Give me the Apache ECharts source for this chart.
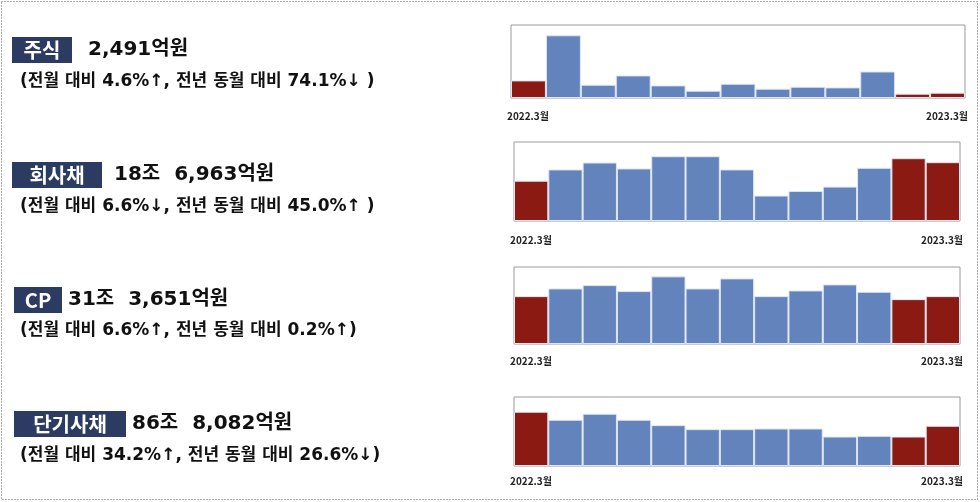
<!DOCTYPE html>
<html><head><meta charset="utf-8">
<script src="https://cdn.jsdelivr.net/npm/echarts@6/dist/echarts.min.js"></script>
<style>
html,body{margin:0;padding:0;background:#fff;}
#main{width:980px;height:502px;}
</style></head>
<body><div id="main"></div>
<script>
// 월별 발행액 (2022.3월 ~ 2023.3월), 그림에서 읽은 상대 높이
var months = ['2022.3','4','5','6','7','8','9','10','11','12','2023.1','2','2023.3'];
var stockVals = [53, 189, 40, 68, 38, 22, 43, 28, 34, 32, 80, 13, 16];
var corpVals = [122, 156, 177, 159, 196, 196, 156, 77, 91, 104, 161, 190, 178];
var cpVals = [143, 166, 176, 158, 202, 166, 196, 143, 160, 178, 156, 134, 143];
var shortVals = [162, 138, 156, 138, 122, 110, 110, 112, 112, 88, 90, 88, 120];
var axisMax = [220, 239, 230, 206];
var titles = ['주식', '회사채', 'CP', '단기사채'];
var amounts = ['2,491억원', '18조  6,963억원', '31조  3,651억원', '86조  8,082억원'];
var notes = [
	'(전월 대비 4.6%↑, 전년 동월 대비 74.1%↓ )',
	'(전월 대비 6.6%↓, 전년 동월 대비 45.0%↑ )',
	'(전월 대비 6.6%↑, 전년 동월 대비 0.2%↑)',
	'(전월 대비 34.2%↑, 전년 동월 대비 26.6%↓)'
];
var startLabel = '2022.3월', endLabel = '2023.3월';

var FONT = '"Noto Sans CJK KR", "Noto Sans", sans-serif';
var WIDE = '"DejaVu Sans", "Noto Sans CJK KR", sans-serif';
var BLUE = '#6383bd', RED = '#8a1a12';
// 각 차트 영역 (픽셀)
var boxes = [
	{l: 511, r: 15, t: 25, h: 73, lab: 117},
	{l: 514, r: 20, t: 142, h: 79, lab: 241},
	{l: 514, r: 20, t: 267, h: 77, lab: 362},
	{l: 514, r: 20, t: 397, h: 69, lab: 482}
];
// 왼쪽 텍스트 위치
var rows = [
	{x: 12, y: 37, w: 60, h: 26, tx: 88, ny: 82},
	{x: 12, y: 162, w: 90, h: 26, tx: 114, ny: 207},
	{x: 14, y: 287, w: 48, h: 26, tx: 68, ny: 331},
	{x: 14, y: 411, w: 112, h: 26, tx: 132, ny: 456}
];
var allVals = [stockVals, corpVals, cpVals, shortVals];

var grids = [], xAxes = [], yAxes = [], series = [], graphic = [];
allVals.forEach(function (vals, i) {
	var b = boxes[i];
	grids.push({left: b.l, right: b.r, top: b.t, height: b.h, show: true, borderColor: '#9a9a9a', borderWidth: 1, backgroundColor: '#fff'});
	xAxes.push({type: 'category', gridIndex: i, data: months, show: false, boundaryGap: true});
	yAxes.push({type: 'value', gridIndex: i, min: 0, max: axisMax[i], show: false});
	series.push({
		type: 'bar', xAxisIndex: i, yAxisIndex: i, barCategoryGap: 0,
		data: vals.map(function (v, j) {
			var red = (j === 0 || j >= 11);
			return {value: v, itemStyle: {color: red ? RED : BLUE}};
		}),
		itemStyle: {borderColor: '#dfe6f2', borderWidth: 1}
	});
	graphic.push({type: 'text', left: b.l - 4, top: b.lab - 6, style: {text: startLabel, font: 'bold 10px ' + FONT, fill: '#222'}});
	graphic.push({type: 'text', right: b.r - 3, top: b.lab - 6, style: {text: endLabel, font: 'bold 10px ' + FONT, fill: '#222'}});
	var r = rows[i];
	graphic.push({type: 'rect', shape: {x: r.x, y: r.y, width: r.w, height: r.h}, style: {fill: '#2c3b62'}});
	graphic.push({type: 'text', x: r.x + r.w / 2, y: r.y + r.h / 2, style: {text: titles[i], font: 'bold 20px ' + FONT, fill: '#fff', align: 'center', verticalAlign: 'middle'}});
	graphic.push({type: 'text', x: r.tx, y: r.y + r.h / 2, style: {text: amounts[i], font: 'bold 20px ' + WIDE, fill: '#111', verticalAlign: 'middle'}});
	graphic.push({type: 'text', x: 20, y: r.ny, style: {text: notes[i], font: 'bold 17px ' + WIDE, fill: '#111', verticalAlign: 'middle'}});
});
graphic.push({type: 'rect', z: -1, shape: {x: 1.5, y: 1.5, width: 976, height: 498}, style: {fill: 'none', stroke: '#555', lineWidth: 1, lineDash: [1, 2]}});

var myChart = echarts.init(document.getElementById('main'));
myChart.setOption({
	animation: false,
	grid: grids, xAxis: xAxes, yAxis: yAxes, series: series, graphic: graphic
});
</script></body></html>
